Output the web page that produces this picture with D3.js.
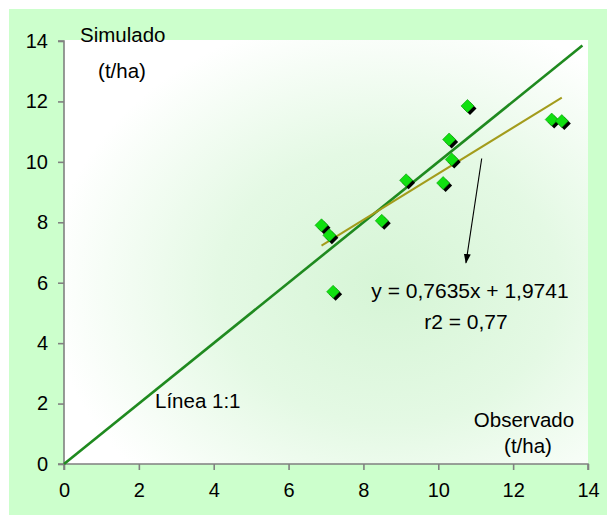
<!DOCTYPE html>
<html>
<head>
<meta charset="utf-8">
<script src="https://cdn.jsdelivr.net/npm/d3@7"></script>
<style>
  body { margin: 0; background: #fff; }
  svg { display: block; font-family: Arial, "Liberation Sans", sans-serif; }
</style>
</head>
<body>
<svg id="chart" width="607" height="515"></svg>
<script>
// observed vs simulated yield (t/ha)
var observado = [6.88, 7.09, 7.19, 8.49, 9.14, 10.13, 10.29, 10.36, 10.78, 13.03, 13.30];
var simulado  = [7.90, 7.57, 5.70, 8.05, 9.39, 9.30, 10.74, 10.08, 11.85, 11.40, 11.35];
var xTicks = [0, 2, 4, 6, 8, 10, 12, 14];
var yTicks = [0, 2, 4, 6, 8, 10, 12, 14];
var lineaX = [0, 13.85];            // 1:1 line
var trendSlope = 0.7635, trendIntercept = 1.9741;
var eqLabel = "y = 0,7635x + 1,9741";
var r2Label = "r2 = 0,77";
var arrowFrom = [11.16, 10.11], arrowTo = [10.74, 6.66];

var svg = d3.select("#chart");
var plot = { left: 64, right: 588, top: 41, bottom: 464 };

var x = d3.scaleLinear().domain([0, 14]).range([plot.left, plot.right]);
var y = d3.scaleLinear().domain([0, 14]).range([plot.bottom, plot.top]);

var defs = svg.append("defs");
var grad = defs.append("radialGradient")
  .attr("id", "plotbg")
  .attr("cx", "62%").attr("cy", "58%").attr("r", "65%");
grad.append("stop").attr("offset", "0%").attr("stop-color", "#d6f5d6");
grad.append("stop").attr("offset", "50%").attr("stop-color", "#e4f9e4");
grad.append("stop").attr("offset", "100%").attr("stop-color", "#ffffff");

defs.append("marker")
  .attr("id", "arrowhead")
  .attr("viewBox", "0 0 10 10")
  .attr("refX", 9).attr("refY", 5)
  .attr("markerWidth", 9).attr("markerHeight", 9)
  .attr("orient", "auto")
  .append("path")
  .attr("d", "M0,1.5 L10,5 L0,8.5 Z")
  .attr("fill", "#000");

// outer chart area
svg.append("rect")
  .attr("x", 9).attr("y", 9)
  .attr("width", 607 - 9).attr("height", 515 - 9)
  .attr("fill", "#ccffcc");

// plot area
svg.append("rect")
  .attr("x", plot.left).attr("y", plot.top - 1)
  .attr("width", plot.right - plot.left).attr("height", plot.bottom - plot.top + 1)
  .attr("fill", "url(#plotbg)");

// axes
var xAxis = d3.axisBottom(x).tickValues(xTicks).tickSize(6).tickPadding(13);
var yAxis = d3.axisLeft(y).tickValues(yTicks).tickSize(6).tickPadding(10);

var gx = svg.append("g")
  .attr("transform", "translate(0," + plot.bottom + ")")
  .call(xAxis);
var gy = svg.append("g")
  .attr("transform", "translate(" + plot.left + ",0)")
  .call(yAxis);

[gx, gy].forEach(function(g) {
  g.select(".domain").attr("stroke", "#808080").attr("stroke-width", 1.6);
  g.selectAll(".tick line").attr("stroke", "#808080").attr("stroke-width", 1.6);
  g.selectAll(".tick text")
    .attr("fill", "#000")
    .style("font-size", "20px")
    .style("font-family", "Arial, 'Liberation Sans', sans-serif");
});
gy.select(".domain").attr("d", "M-6," + plot.bottom + "H0V" + plot.top + "H-6");
gx.select(".domain").attr("d", "M" + plot.left + ",6V0H" + plot.right + "V6");

// 1:1 line
svg.append("line")
  .attr("x1", x(lineaX[0])).attr("y1", y(lineaX[0]))
  .attr("x2", x(lineaX[1])).attr("y2", y(lineaX[1]))
  .attr("stroke", "#1f8a1f")
  .attr("stroke-width", 2.6);

// trend line
var tMin = d3.min(observado), tMax = d3.max(observado);
svg.append("line")
  .attr("x1", x(tMin)).attr("y1", y(trendSlope * tMin + trendIntercept))
  .attr("x2", x(tMax)).attr("y2", y(trendSlope * tMax + trendIntercept))
  .attr("stroke", "#a39c1c")
  .attr("stroke-width", 2);

// points: diamonds with a dark shadow
var pts = observado.map(function(d, i) { return { x: d, y: simulado[i] }; });
var diamond = "M0,-6.5 L6.5,0 L0,6.5 L-6.5,0 Z";

svg.append("g").selectAll("path")
  .data(pts).enter().append("path")
  .attr("d", diamond)
  .attr("transform", function(d) { return "translate(" + (x(d.x) + 2.5) + "," + (y(d.y) + 2.5) + ")"; })
  .attr("fill", "#000");

svg.append("g").selectAll("path")
  .data(pts).enter().append("path")
  .attr("d", diamond)
  .attr("transform", function(d) { return "translate(" + x(d.x) + "," + y(d.y) + ")"; })
  .attr("fill", "#11e011")
  .attr("stroke", "#0a9a0a")
  .attr("stroke-width", 0.6);

// arrow to the equation
svg.append("line")
  .attr("x1", x(arrowFrom[0])).attr("y1", y(arrowFrom[1]))
  .attr("x2", x(arrowTo[0])).attr("y2", y(arrowTo[1]))
  .attr("stroke", "#000")
  .attr("stroke-width", 1.1)
  .attr("marker-end", "url(#arrowhead)");

// text labels
function label(txt, px, py, anchor, size) {
  svg.append("text")
    .attr("x", px).attr("y", py)
    .attr("text-anchor", anchor || "start")
    .style("font-size", (size || 19) + "px")
    .attr("fill", "#000")
    .text(txt);
}
label("Simulado", 80, 42, "start", 20.5);
label("(t/ha)", 122, 78, "middle", 20.5);
label("Observado", 524, 427, "middle", 20.5);
label("(t/ha)", 528, 453, "middle", 20.5);
label("Línea 1:1", 155, 408, "start", 20.5);
label(eqLabel, 470, 298, "middle", 21);
label(r2Label, 466, 329, "middle", 21);
</script>
</body>
</html>
